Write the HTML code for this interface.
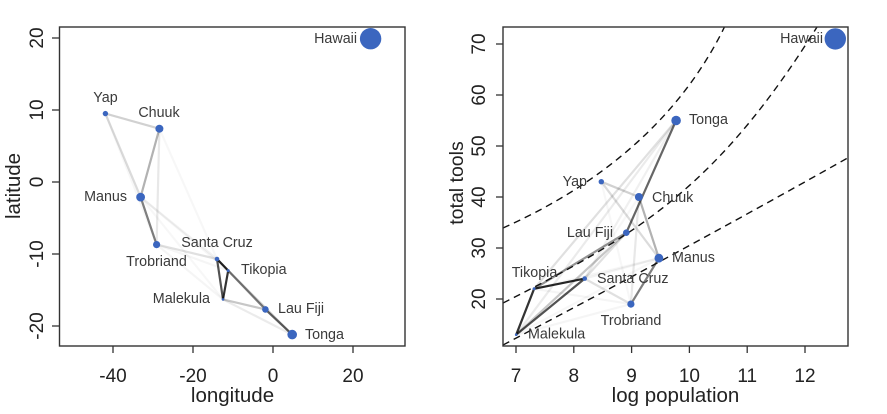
<!DOCTYPE html>
<html><head><meta charset="utf-8"><style>
html,body{margin:0;padding:0;background:#fff;}
svg{display:block;}
text{font-family:"Liberation Sans",Arial,sans-serif;}
</style></head><body>
<svg width="887" height="414" viewBox="0 0 887 414" xmlns="http://www.w3.org/2000/svg">
<defs>
<clipPath id="cr"><rect x="503" y="27" width="345" height="319"/></clipPath>
<clipPath id="cl"><rect x="59" y="27" width="346" height="319"/></clipPath>
</defs>

<!-- LEFT PLOT -->
<g clip-path="url(#cl)" stroke="#000" stroke-width="2.2" stroke-linecap="round" fill="none">
<line x1="156.6" y1="244.6" x2="223" y2="299.4" stroke-opacity="0.04"/>
<line x1="156.6" y1="244.6" x2="228.2" y2="270.6" stroke-opacity="0.04"/>
<line x1="228.2" y1="270.6" x2="140.6" y2="197.1" stroke-opacity="0.04"/>
<line x1="223" y1="299.4" x2="140.6" y2="197.1" stroke-opacity="0.03"/>
<line x1="159.4" y1="128.7" x2="217" y2="259" stroke-opacity="0.03"/>
<line x1="105.4" y1="113.6" x2="156.6" y2="244.6" stroke-opacity="0.03"/>
<line x1="217" y1="259" x2="140.6" y2="197.1" stroke-opacity="0.05"/>
<line x1="217" y1="259" x2="292.2" y2="334.6" stroke-opacity="0.06"/>
<line x1="223" y1="299.4" x2="292.2" y2="334.6" stroke-opacity="0.08"/>
<line x1="159.4" y1="128.7" x2="156.6" y2="244.6" stroke-opacity="0.09"/>
<line x1="156.6" y1="244.6" x2="217" y2="259" stroke-opacity="0.12"/>
<line x1="217" y1="259" x2="265.4" y2="309.4" stroke-opacity="0.12"/>
<line x1="228.2" y1="270.6" x2="292.2" y2="334.6" stroke-opacity="0.12"/>
<line x1="105.4" y1="113.6" x2="140.6" y2="197.1" stroke-opacity="0.14"/>
<line x1="105.4" y1="113.6" x2="159.4" y2="128.7" stroke-opacity="0.18"/>
<line x1="223" y1="299.4" x2="265.4" y2="309.4" stroke-opacity="0.22"/>
<line x1="159.4" y1="128.7" x2="140.6" y2="197.1" stroke-opacity="0.3"/>
<line x1="228.2" y1="270.6" x2="265.4" y2="309.4" stroke-opacity="0.42"/>
<line x1="156.6" y1="244.6" x2="140.6" y2="197.1" stroke-opacity="0.5"/>
<line x1="265.4" y1="309.4" x2="292.2" y2="334.6" stroke-opacity="0.6"/>
<line x1="223" y1="299.4" x2="217" y2="259" stroke-opacity="0.68"/>
<line x1="223" y1="299.4" x2="228.2" y2="270.6" stroke-opacity="0.8"/>
<line x1="228.2" y1="270.6" x2="217" y2="259" stroke-opacity="0.85"/>
</g>
<g fill="#3b66bf">
<circle cx="223" cy="299.4" r="1.3"/>
<circle cx="228.2" cy="270.6" r="1.5"/>
<circle cx="217" cy="259" r="2.3"/>
<circle cx="105.4" cy="113.6" r="2.7"/>
<circle cx="265.4" cy="309.4" r="3.3"/>
<circle cx="156.6" cy="244.6" r="3.6"/>
<circle cx="159.4" cy="128.7" r="4.0"/>
<circle cx="140.6" cy="197.1" r="4.4"/>
<circle cx="292.2" cy="334.6" r="4.8"/>
<circle cx="370.6" cy="38.7" r="10.7"/>
</g>
<g font-size="14.3" fill="#3a3a3a">
<text x="357" y="43" text-anchor="end">Hawaii</text>
<text x="105.5" y="102" text-anchor="middle">Yap</text>
<text x="159" y="117" text-anchor="middle">Chuuk</text>
<text x="127" y="201" text-anchor="end">Manus</text>
<text x="156.5" y="266" text-anchor="middle">Trobriand</text>
<text x="217" y="247" text-anchor="middle">Santa Cruz</text>
<text x="241" y="274">Tikopia</text>
<text x="210" y="303" text-anchor="end">Malekula</text>
<text x="278" y="313">Lau Fiji</text>
<text x="305" y="339">Tonga</text>
</g>
<rect x="59.5" y="27" width="345.5" height="319" fill="none" stroke="#333" stroke-width="1.4"/>
<g stroke="#333" stroke-width="1.3">
<line x1="113" y1="346" x2="113" y2="353"/>
<line x1="193" y1="346" x2="193" y2="353"/>
<line x1="273" y1="346" x2="273" y2="353"/>
<line x1="353" y1="346" x2="353" y2="353"/>
<line x1="52" y1="38" x2="59" y2="38"/>
<line x1="52" y1="110" x2="59" y2="110"/>
<line x1="52" y1="182" x2="59" y2="182"/>
<line x1="52" y1="254" x2="59" y2="254"/>
<line x1="52" y1="326" x2="59" y2="326"/>
</g>
<g font-size="19" fill="#222" text-anchor="middle">
<text x="113" y="382">-40</text>
<text x="193" y="382">-20</text>
<text x="273" y="382">0</text>
<text x="353" y="382">20</text>
<text transform="translate(43,38) rotate(-90)">20</text>
<text transform="translate(43,110) rotate(-90)">10</text>
<text transform="translate(43,182) rotate(-90)">0</text>
<text transform="translate(43,254) rotate(-90)">-10</text>
<text transform="translate(43,326) rotate(-90)">-20</text>
</g>
<g font-size="20.5" fill="#222" text-anchor="middle">
<text x="232.5" y="402">longitude</text>
<text transform="translate(20,186) rotate(-90)">latitude</text>
</g>

<!-- RIGHT PLOT -->
<g clip-path="url(#cr)" stroke="#000" stroke-width="2.2" stroke-linecap="round" fill="none">
<line x1="630.9" y1="304.1" x2="516.2" y2="334.7" stroke-opacity="0.04"/>
<line x1="630.9" y1="304.1" x2="534.1" y2="288.8" stroke-opacity="0.04"/>
<line x1="534.1" y1="288.8" x2="658.9" y2="258.2" stroke-opacity="0.04"/>
<line x1="516.2" y1="334.7" x2="658.9" y2="258.2" stroke-opacity="0.03"/>
<line x1="638.9" y1="197" x2="584.7" y2="278.6" stroke-opacity="0.03"/>
<line x1="601.3" y1="181.7" x2="630.9" y2="304.1" stroke-opacity="0.03"/>
<line x1="584.7" y1="278.6" x2="658.9" y2="258.2" stroke-opacity="0.05"/>
<line x1="584.7" y1="278.6" x2="676.1" y2="120.5" stroke-opacity="0.06"/>
<line x1="516.2" y1="334.7" x2="676.1" y2="120.5" stroke-opacity="0.08"/>
<line x1="638.9" y1="197" x2="630.9" y2="304.1" stroke-opacity="0.09"/>
<line x1="630.9" y1="304.1" x2="584.7" y2="278.6" stroke-opacity="0.12"/>
<line x1="584.7" y1="278.6" x2="626.3" y2="232.7" stroke-opacity="0.12"/>
<line x1="534.1" y1="288.8" x2="676.1" y2="120.5" stroke-opacity="0.12"/>
<line x1="601.3" y1="181.7" x2="658.9" y2="258.2" stroke-opacity="0.14"/>
<line x1="601.3" y1="181.7" x2="638.9" y2="197" stroke-opacity="0.18"/>
<line x1="516.2" y1="334.7" x2="626.3" y2="232.7" stroke-opacity="0.22"/>
<line x1="638.9" y1="197" x2="658.9" y2="258.2" stroke-opacity="0.3"/>
<line x1="534.1" y1="288.8" x2="626.3" y2="232.7" stroke-opacity="0.42"/>
<line x1="630.9" y1="304.1" x2="658.9" y2="258.2" stroke-opacity="0.5"/>
<line x1="626.3" y1="232.7" x2="676.1" y2="120.5" stroke-opacity="0.6"/>
<line x1="516.2" y1="334.7" x2="584.7" y2="278.6" stroke-opacity="0.68"/>
<line x1="516.2" y1="334.7" x2="534.1" y2="288.8" stroke-opacity="0.8"/>
<line x1="534.1" y1="288.8" x2="584.7" y2="278.6" stroke-opacity="0.85"/>
</g>
<g clip-path="url(#cr)" fill="none" stroke="#111" stroke-width="1.4" stroke-dasharray="7 5">
<path d="M503,228 C586,191 673,130 723,30 L730,15"/>
<path d="M503,303 C638,235 717,187 817,27 L825,14"/>
<path d="M503,345 Q690,247 860,151"/>
</g>
<g fill="#3b66bf">
<circle cx="516.2" cy="334.7" r="1.3"/>
<circle cx="534.1" cy="288.8" r="1.5"/>
<circle cx="584.7" cy="278.6" r="2.3"/>
<circle cx="601.3" cy="181.7" r="2.7"/>
<circle cx="626.3" cy="232.7" r="3.3"/>
<circle cx="630.9" cy="304.1" r="3.6"/>
<circle cx="638.9" cy="197" r="4.0"/>
<circle cx="658.9" cy="258.2" r="4.4"/>
<circle cx="676.1" cy="120.5" r="4.8"/>
<circle cx="835.3" cy="38.9" r="10.7"/>
</g>
<g font-size="14.3" fill="#3a3a3a">
<text x="823" y="43" text-anchor="end">Hawaii</text>
<text x="689" y="124">Tonga</text>
<text x="587" y="186" text-anchor="end">Yap</text>
<text x="652" y="202">Chuuk</text>
<text x="613" y="237" text-anchor="end">Lau Fiji</text>
<text x="672" y="262">Manus</text>
<text x="597" y="283">Santa Cruz</text>
<text x="534.5" y="277" text-anchor="middle">Tikopia</text>
<text x="631" y="325" text-anchor="middle">Trobriand</text>
<text x="528" y="338.5">Malekula</text>
</g>
<rect x="503" y="27" width="345" height="319" fill="none" stroke="#333" stroke-width="1.4"/>
<g stroke="#333" stroke-width="1.3">
<line x1="516" y1="346" x2="516" y2="353"/>
<line x1="573.8" y1="346" x2="573.8" y2="353"/>
<line x1="631.6" y1="346" x2="631.6" y2="353"/>
<line x1="689.4" y1="346" x2="689.4" y2="353"/>
<line x1="747.2" y1="346" x2="747.2" y2="353"/>
<line x1="805" y1="346" x2="805" y2="353"/>
<line x1="496" y1="299" x2="503" y2="299"/>
<line x1="496" y1="248" x2="503" y2="248"/>
<line x1="496" y1="197" x2="503" y2="197"/>
<line x1="496" y1="146" x2="503" y2="146"/>
<line x1="496" y1="95" x2="503" y2="95"/>
<line x1="496" y1="44" x2="503" y2="44"/>
</g>
<g font-size="19" fill="#222" text-anchor="middle">
<text x="516" y="382">7</text>
<text x="573.8" y="382">8</text>
<text x="631.6" y="382">9</text>
<text x="689.4" y="382">10</text>
<text x="747.2" y="382">11</text>
<text x="805" y="382">12</text>
<text transform="translate(485,299) rotate(-90)">20</text>
<text transform="translate(485,248) rotate(-90)">30</text>
<text transform="translate(485,197) rotate(-90)">40</text>
<text transform="translate(485,146) rotate(-90)">50</text>
<text transform="translate(485,95) rotate(-90)">60</text>
<text transform="translate(485,44) rotate(-90)">70</text>
</g>
<g font-size="20.5" fill="#222" text-anchor="middle">
<text x="675.5" y="402">log population</text>
<text transform="translate(463,183) rotate(-90)" font-size="19.5">total tools</text>
</g>
</svg>
</body></html>
